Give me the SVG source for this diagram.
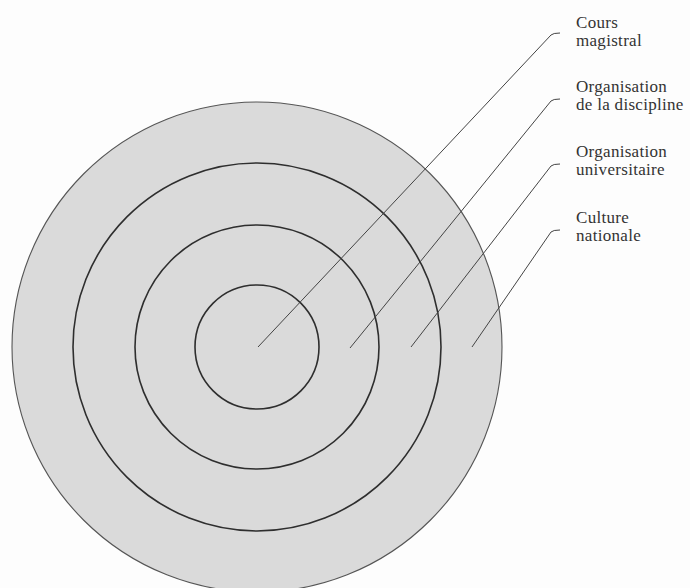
<svg xmlns="http://www.w3.org/2000/svg" width="690" height="588" viewBox="0 0 690 588">
<style>
.ring{fill:none;stroke:#2e2e2e;stroke-width:1.6}
.outer{fill:#dadada;stroke:#555;stroke-width:1.1}
.lead{fill:none;stroke:#444;stroke-width:1}
.lbl{font-family:"Liberation Serif","Times New Roman",serif;font-size:17px;letter-spacing:0.3px;fill:#333}
</style>
<rect width="690" height="588" fill="#fdfdfd"/>
<g id="culture-nationale"><circle class="outer" cx="257" cy="347" r="245"/></g>
<g id="organisation-universitaire"><circle class="ring" cx="257" cy="347" r="184"/></g>
<g id="organisation-discipline"><circle class="ring" cx="257" cy="347" r="122"/></g>
<g id="cours-magistral"><circle class="ring" cx="257" cy="347" r="62"/></g>
<g id="connectors">
<path class="lead" d="M258 347 L551 35 Q553 33 560 33"/>
<path class="lead" d="M350 348 L551 101 Q553 99 560 99"/>
<path class="lead" d="M411 347 L551 166 Q553 164 560 164"/>
<path class="lead" d="M472 347 L551 232 Q553 230 560 230"/>
</g>
<g id="labels">
<text class="lbl" x="576" y="28">Cours</text>
<text class="lbl" x="576" y="46">magistral</text>
<text class="lbl" x="576" y="92">Organisation</text>
<text class="lbl" x="576" y="110">de la discipline</text>
<text class="lbl" x="576" y="157">Organisation</text>
<text class="lbl" x="576" y="175">universitaire</text>
<text class="lbl" x="576" y="223">Culture</text>
<text class="lbl" x="576" y="241">nationale</text>
</g>
</svg>
